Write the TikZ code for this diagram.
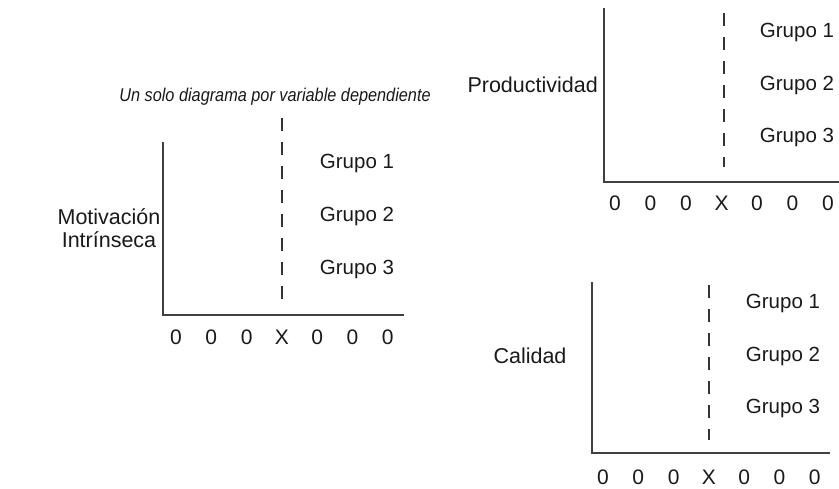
\documentclass[tikz,border=0pt]{standalone}
\usepackage{fontspec}
\setmainfont{Liberation Sans}
\newfontfamily\ttlfont[FakeStretch=0.88]{Liberation Sans}
\begin{document}
\begin{tikzpicture}[x=1pt,y=-1pt,
  axis/.style={draw=black!75,line width=1.6pt},
  dashline/.style={draw=black!80,line width=1.5pt,dash pattern=on 13pt off 11pt},
  lbl/.style={inner sep=0pt,font=\fontsize{20.5}{23}\selectfont,text=black!90},
  vlbl/.style={inner sep=0pt,font=\fontsize{21.5}{24}\selectfont,text=black!90},
  num/.style={inner sep=0pt,font=\fontsize{21}{24}\selectfont,text=black!90},
  ttl/.style={inner sep=0pt,font=\ttlfont\fontsize{18.5}{22}\selectfont\itshape,text=black!90}]
\useasboundingbox (0,0) rectangle (839,489);
% ---- left diagram ----
\node[ttl] (title) at (275,97) {Un solo diagrama por variable dependiente};
\coordinate (L0) at (163,142);
\coordinate (Lo) at (163,315);
\coordinate (L1) at (404,315);
\draw[axis] (L0) -- (Lo) -- (L1);
\coordinate (Ld0) at (282,118);
\coordinate (Ld1) at (282,300);
\draw[dashline] (Ld0) -- (Ld1);
\node[vlbl,align=center] (mot) at (109,228) {Motivación\\[-1pt]Intrínseca};
\node[lbl] (lg1) at (357,163) {Grupo 1};
\node[lbl] (lg2) at (357,216) {Grupo 2};
\node[lbl] (lg3) at (357,269) {Grupo 3};
\foreach \t [count=\i] in {0,0,0,X,0,0,0}
  \node[num] (ln\i) at ({176+35.3*(\i-1)},337) {\t};
% ---- top right diagram ----
\coordinate (P0) at (604,8);
\coordinate (Po) at (604,182);
\coordinate (P1) at (839,182);
\draw[axis] (P0) -- (Po) -- (P1);
\coordinate (Pd0) at (724,13);
\coordinate (Pd1) at (724,167);
\draw[dashline] (Pd0) -- (Pd1);
\node[vlbl,anchor=east] (prod) at (598,85) {Productividad};
\node[lbl] (pg1) at (797,32) {Grupo 1};
\node[lbl] (pg2) at (797,85) {Grupo 2};
\node[lbl] (pg3) at (797,137) {Grupo 3};
\foreach \t [count=\i] in {0,0,0,X,0,0,0}
  \node[num] (pn\i) at ({615+35.5*(\i-1)},203) {\t};
% ---- bottom right diagram ----
\coordinate (C0) at (592,282);
\coordinate (Co) at (592,453);
\coordinate (C1) at (830,453);
\draw[axis] (C0) -- (Co) -- (C1);
\coordinate (Cd0) at (709,285);
\coordinate (Cd1) at (709,440);
\draw[dashline] (Cd0) -- (Cd1);
\node[vlbl] (cal) at (530,356) {Calidad};
\node[lbl] (cg1) at (783,303) {Grupo 1};
\node[lbl] (cg2) at (783,356) {Grupo 2};
\node[lbl] (cg3) at (783,408) {Grupo 3};
\foreach \t [count=\i] in {0,0,0,X,0,0,0}
  \node[num] (cn\i) at ({603+35.3*(\i-1)},477) {\t};
\end{tikzpicture}
\end{document}
